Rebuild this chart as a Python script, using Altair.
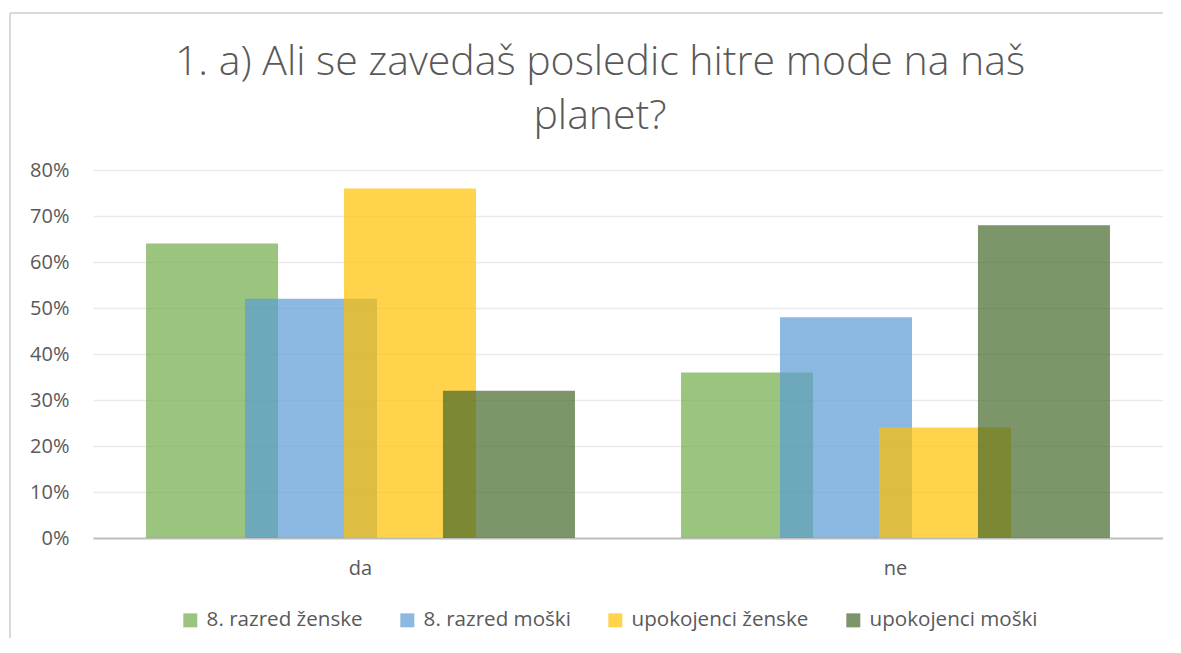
import altair as alt
import pandas as pd

categories = ["da", "ne"]
series = ["8. razred ženske", "8. razred moški", "upokojenci ženske", "upokojenci moški"]
values_da = [0.64, 0.52, 0.76, 0.32]
values_ne = [0.36, 0.48, 0.24, 0.68]
colors = ["#70AD47", "#5B9BD5", "#FFC000", "#44682A"]

rows = []
for cat, vals in zip(categories, [values_da, values_ne]):
    for i, (s, v) in enumerate(zip(series, vals)):
        rows.append({"kategorija": cat, "skupina": s, "vrednost": v, "red": i})
df = pd.DataFrame(rows)

grey = "#595959"
font = "Open Sans"

bars = alt.Chart(df).mark_bar(width=132, opacity=0.7).encode(
    x=alt.X("kategorija:N", sort=categories, title=None,
            scale=alt.Scale(paddingInner=0.26, paddingOuter=0.13),
            axis=alt.Axis(labelAngle=0, labelFontSize=20, labelColor=grey, labelFont=font,
                          labelPadding=20, ticks=False, domainColor="#BFBFBF", domainWidth=2,
                          grid=False)),
    xOffset=alt.XOffset("skupina:N", sort=series,
                        scale=alt.Scale(paddingInner=0, paddingOuter=0)),
    y=alt.Y("vrednost:Q", title=None,
            scale=alt.Scale(domain=[0, 0.8], nice=False),
            axis=alt.Axis(format=".0%", values=[0, 0.1, 0.2, 0.3, 0.4, 0.5, 0.6, 0.7, 0.8],
                          labelFontSize=20, labelColor=grey, labelFont=font, labelPadding=24,
                          ticks=False, domain=False, gridColor="#EAEAEA", gridWidth=1.5)),
    color=alt.Color("skupina:N", sort=series,
                    scale=alt.Scale(domain=series, range=colors),
                    legend=alt.Legend(orient="none", legendX=87, legendY=440,
                                      direction="horizontal", title=None,
                                      labelFontSize=20.6, labelColor=grey, labelFont=font,
                                      symbolType="square", symbolSize=196, symbolOpacity=0.7,
                                      symbolStrokeWidth=0, columnPadding=34, labelOffset=6,
                                      labelLimit=300)),
    order=alt.Order("red:Q"),
)

border_left = alt.Chart(df).mark_rule(color="#D9D9D9", strokeWidth=2, clip=False).encode(
    x=alt.value(-83), y=alt.value(-157), y2=alt.value(500)
)
border_top = alt.Chart(df).mark_rule(color="#D9D9D9", strokeWidth=2, clip=False).encode(
    x=alt.value(-83), x2=alt.value(1100), y=alt.value(-157)
)

chart = alt.layer(border_left, border_top, bars).properties(
    width=1070,
    height=368,
    title=alt.TitleParams(
        text=["1. a) Ali se zavedaš posledic hitre mode na naš", "planet?"],
        fontSize=41, font=font, fontWeight=300, color=grey, anchor="middle",
        lineHeight=54, offset=28, dy=154, dx=-28,
    ),
    autosize=alt.AutoSizeParams(type="none"),
    padding={"left": 85, "top": 162, "right": 0, "bottom": 100},
    background="white",
).configure_view(stroke=None)

chart.save("out.html", embed_options={"renderer": "svg", "actions": False})
